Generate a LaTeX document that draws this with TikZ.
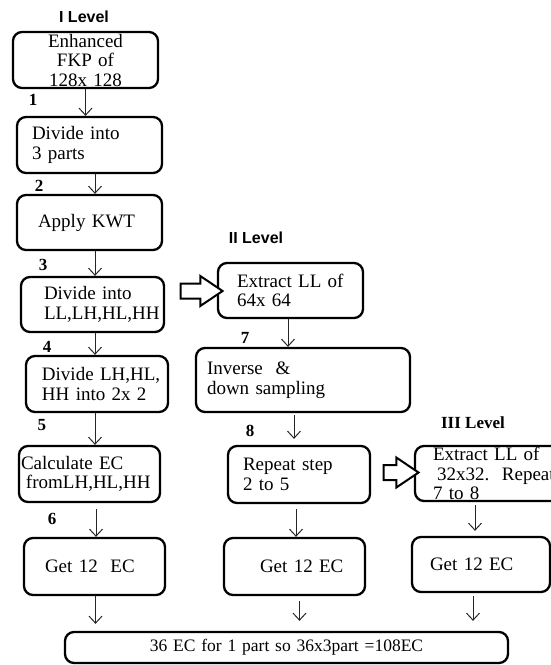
\documentclass[tikz,border=0pt]{standalone}
\usepackage{fontspec}
\setmainfont{Liberation Serif}
\newfontfamily\headfont{Liberation Sans}
\usetikzlibrary{arrows.meta,shapes.arrows}
\tikzset{
  stage/.style={draw, line width=2.3pt, rounded corners=9pt, inner sep=0pt,
    align=left, font=\fontsize{19}{19.5}\selectfont},
  lpad/.style={execute at begin node={\leftskip=#1\relax}},
  flow/.style={draw=black!85, line width=1pt, -{Straight Barb[length=7pt,width=13pt]}},
  bigarrow/.style={single arrow, draw, line width=2pt, fill=white, inner xsep=0pt,
    inner ysep=6.5pt, single arrow head extend=7.5pt, single arrow tip angle=68,
    single arrow head indent=0pt},
  stepno/.style={font=\fontsize{17}{17}\selectfont\bfseries},
  levelname/.style={font=\headfont\fontsize{16}{16}\selectfont\bfseries}
}
\begin{document}
\begin{tikzpicture}[x=1pt,y=-1pt]
    \useasboundingbox (0,0) rectangle (551,665);

    \node[levelname] (lvlI) at (84,17) {I Level};
    \node[levelname] (lvlII) at (256,238) {II Level};
    \node[stepno] (lvlIII) at (473,423) {III Level};

    % first level
    \node[stage, align=center, text width=145pt, minimum height=56pt] (fkp) at (85.5,60) {Enhanced\\FKP of\\128x 128};
    \node[stage, lpad=15pt, text width=145pt, minimum height=56pt] (parts) at (89.5,145) {Divide into\\3 parts};
    \node[stage, lpad=21pt, text width=145pt, minimum height=55pt] (kwt) at (89.5,222.5) {Apply KWT};
    \node[stage, lpad=23pt, text width=143pt, minimum height=55pt] (bands) at (92.5,304.5) {Divide into\\LL,LH,HL,HH};
    \node[stage, lpad=16pt, text width=142pt, minimum height=56pt] (split) at (97,384) {Divide LH,HL,\\HH into 2x 2};
    \node[stage, lpad=2pt, text width=141pt, minimum height=56pt] (calc) at (89.5,474) {Calculate EC\\\hspace*{5pt}fromLH,HL,HH};
    \node[stage, lpad=21pt, text width=141pt, minimum height=57pt] (ecI) at (94.5,566.5) {Get 12\ \ EC};

    % second level
    \node[stage, lpad=19pt, text width=145pt, minimum height=55pt] (llII) at (290.5,290.5) {Extract LL of\\64x 64};
    \node[stage, lpad=11pt, text width=214pt, minimum height=64pt] (inv) at (303,380) {Inverse\ \ \&\\down sampling};
    \node[stage, lpad=15pt, text width=142pt, minimum height=57pt] (rep) at (299,474.5) {Repeat step\\2 to 5};
    \node[stage, lpad=36pt, text width=141pt, minimum height=57pt] (ecII) at (294.5,566.5) {Get 12 EC};

    % third level
    \node[stage, lpad=18pt, text width=145pt, minimum height=55pt] (llIII) at (487.5,473.5) {Extract LL of\\\hspace*{4pt}32x32.\ \ Repeat\\7 to 8};
    \node[stage, lpad=18pt, text width=138pt, minimum height=55pt] (ecIII) at (481,564.5) {Get 12 EC};

    \node[stage, align=center, text width=443pt, minimum height=31pt, font=\fontsize{17.5}{18}\selectfont] (total) at (286.5,647.5) {36 EC for 1 part so 36x3part =108EC};

    \node[bigarrow, minimum height=42pt] (toII) at (196,291) {};
    \node[bigarrow, minimum height=35pt] (toIII) at (395.5,472.5) {};

    \node[stepno] (n1) at (33,100) {1};
    \node[stepno] (n2) at (39,186) {2};
    \node[stepno] (n3) at (43,265) {3};
    \node[stepno] (n4) at (47,347) {4};
    \node[stepno] (n5) at (42,425) {5};
    \node[stepno] (n6) at (52,519) {6};
    \node[stepno] (n7) at (245,338) {7};
    \node[stepno] (n8) at (250,431) {8};

    \draw[flow] (fkp.south) -- (fkp.south |- parts.north);
    \draw[flow] ([xshift=5.5pt]parts.south) -- ([xshift=5.5pt]parts.south |- kwt.north);
    \draw[flow] ([xshift=5.5pt]kwt.south) -- ([xshift=5.5pt]kwt.south |- bands.north);
    \draw[flow] ([xshift=2.5pt]bands.south) -- ([xshift=2.5pt]bands.south |- split.north);
    \draw[flow] ([xshift=-2pt]split.south) -- ([xshift=-2pt]split.south |- calc.north);
    \draw[flow, shorten <=6pt] ([xshift=6.5pt]calc.south) -- ([xshift=6.5pt]calc.south |- ecI.north);
    \draw[flow, shorten >=7pt] ([xshift=1pt]ecI.south) -- ([xshift=1pt]ecI.south |- total.north);

    \draw[flow] ([xshift=-2.5pt]llII.south) -- ([xshift=-2.5pt]llII.south |- inv.north);
    \draw[flow, shorten <=2pt, shorten >=6pt] ([xshift=-9pt]inv.south) -- ([xshift=-9pt]inv.south |- rep.north);
    \draw[flow, shorten <=5pt] ([xshift=-3pt]rep.south) -- ([xshift=-3pt]rep.south |- ecII.north);
    \draw[flow, shorten <=5pt, shorten >=10pt] ([xshift=5pt]ecII.south) -- ([xshift=5pt]ecII.south |- total.north);

    \draw[flow, shorten <=3pt, shorten >=5pt] ([xshift=-12.5pt]llIII.south) -- ([xshift=-12.5pt]llIII.south |- ecIII.north);
    \draw[flow, shorten <=3pt, shorten >=10pt] ([xshift=-8pt]ecIII.south) -- ([xshift=-8pt]ecIII.south |- total.north);
\end{tikzpicture}
\end{document}
